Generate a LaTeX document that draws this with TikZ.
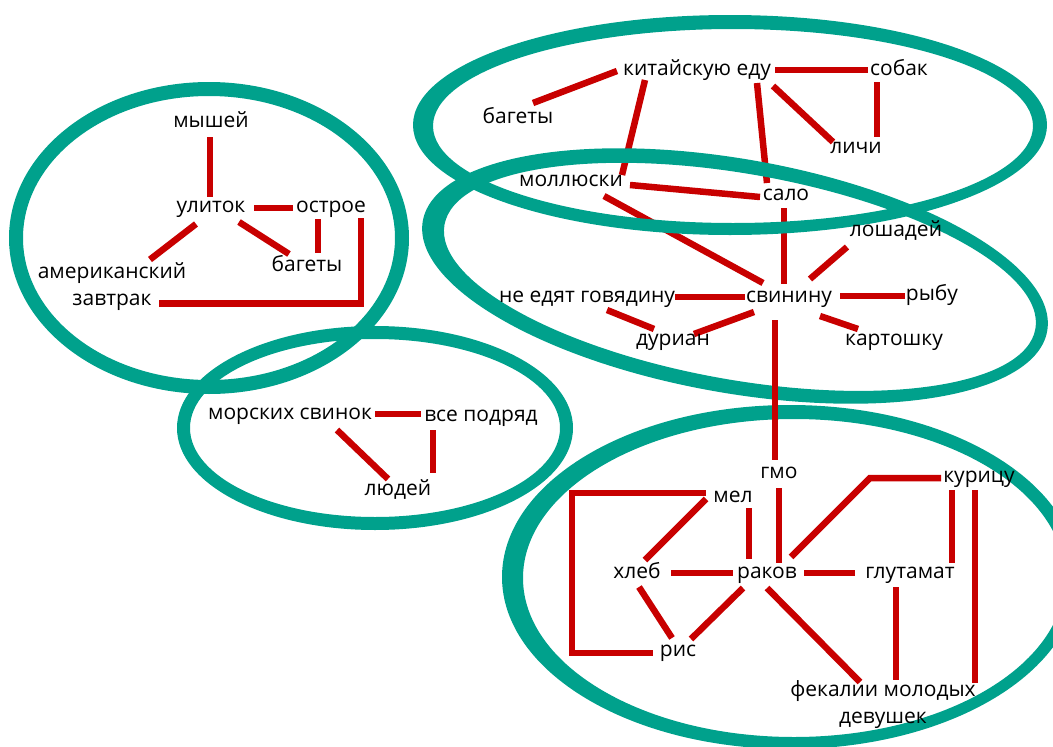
\documentclass[tikz,border=0pt]{standalone}
\usepackage{fontspec}
\setmainfont{Open Sans}
\usetikzlibrary{calc}
\definecolor{ringteal}{RGB}{0,161,140}
\definecolor{linkred}{RGB}{200,0,0}
\pgfdeclarelayer{back}
\pgfsetlayers{back,main}
\begin{document}
\begin{tikzpicture}[x=1pt,y=-1pt,
  lbl/.style={font=\fontsize{21}{25}\selectfont, inner sep=0pt, text height=15.5pt, text depth=4.5pt, anchor=center},
  lbltwo/.style={font=\fontsize{21}{27}\selectfont, inner sep=0pt, align=center, anchor=center},
  link/.style={draw=linkred, line width=6.5pt},
  ring/.style={fill=ringteal, even odd rule}]
\useasboundingbox (0,0) rectangle (1053,747);
% ---------- labels ----------
\node[lbl] (mysh) at (211,122) {мышей};
\node[lbl] (ulit) at (211,207) {улиток};
\node[lbl] (ostr) at (331,207) {острое};
\node[lbltwo] (amer) at (112,286.5) {американский\\завтрак};
\node[lbl] (bag1) at (307,266) {багеты};
\node[lbl] (bag2) at (518,118) {багеты};
\node[lbl] (kit) at (697,70) {китайскую еду};
\node[lbl] (sobak) at (899,70) {собак};
\node[lbl] (lichi) at (856,148) {личи};
\node[lbl] (moll) at (571,181) {моллюски};
\node[lbl] (salo) at (786,195) {сало};
\node[lbl] (losh) at (896,231) {лошадей};
\node[lbl] (svin) at (789,297) {свинину};
\node[lbl] (ryba) at (932,295) {рыбу};
\node[lbl] (need) at (587,297) {не едят говядину};
\node[lbl] (durian) at (673,340) {дуриан};
\node[lbl] (kart) at (894,340) {картошку};
\node[lbl] (morsk) at (290,414) {морских свинок};
\node[lbl] (vse) at (481,416) {все подряд};
\node[lbl] (lyud) at (398,490) {людей};
\node[lbl] (gmo) at (779,473) {гмо};
\node[lbl] (kur) at (979,477) {курицу};
\node[lbl] (mel) at (733,497) {мел};
\node[lbl] (hleb) at (637,573) {хлеб};
\node[lbl] (rakov) at (767,573) {раков};
\node[lbl] (glut) at (910,573) {глутамат};
\node[lbl] (ris) at (678,651) {рис};
\node[lbltwo] (fek) at (883,705) {фекалии молодых\\девушек};
\begin{pgfonlayer}{back}
\clip (0,0) rectangle (1053,747);
% ---------- links ----------
\draw[link] ($(mysh)+(-1,15)$) -- ($(ulit)+(-1,-10)$);
\draw[link] ($(ulit)+(43,1)$) -- ($(ostr)+(-38,1)$);
\draw[link] ($(ulit)+(-15,17)$) -- ($(amer)+(38,-27)$);
\draw[link] ($(ulit)+(28,15)$) -- ($(bag1)+(-18,-12)$);
\draw[link] ($(ostr)+(-13,12)$) -- ($(bag1)+(11,-13)$);
\draw[link] ($(ostr)+(30,11)$) |- ($(amer)+(47,17)$);
\draw[link] ($(bag2)+(15,-15)$) -- ($(kit)+(-80,1)$);
\draw[link] ($(kit)+(78,0)$) -- ($(sobak)+(-31,0)$);
\draw[link] ($(kit)+(76,16)$) -- ($(lichi)+(-23,-6)$);
\draw[link] ($(kit)+(60,13)$) -- ($(salo)+(-19,-12)$);
\draw[link] ($(kit)+(-52,10)$) -- ($(moll)+(51,-6)$);
\draw[link] ($(sobak)+(-22,12)$) -- ($(lichi)+(21,-11)$);
\draw[link] ($(moll)+(59,4)$) -- ($(salo)+(-26,2)$);
\draw[link] ($(salo)+(-2,13)$) -- ($(svin)+(-5,-13)$);
\draw[link] ($(moll)+(33,15)$) -- ($(svin)+(-26,-14)$);
\draw[link] ($(losh)+(-49,16)$) -- ($(svin)+(21,-18)$);
\draw[link] ($(svin)+(51,-1)$) -- ($(ryba)+(-27,1)$);
\draw[link] ($(need)+(88,0)$) -- ($(svin)+(-44,0)$);
\draw[link] ($(need)+(20,13)$) -- ($(durian)+(-19,-11)$);
\draw[link] ($(svin)+(-35,15)$) -- ($(durian)+(21,-6)$);
\draw[link] ($(svin)+(31,19)$) -- ($(kart)+(-36,-11)$);
\draw[link] ($(morsk)+(85,0)$) -- ($(vse)+(-60,-2)$);
\draw[link] ($(morsk)+(47,16)$) -- ($(lyud)+(-10,-11)$);
\draw[link] ($(vse)+(-48,14)$) -- ($(lyud)+(35,-17)$);
\draw[link] ($(gmo)+(0,15)$) -- ($(rakov)+(12,-10)$);
\draw[link] ($(mel)+(16,11)$) -- ($(rakov)+(-18,-14)$);
\draw[link] ($(mel)+(-27,-4)$) -| ($(ris)+(-106,2)$) -- ($(ris)+(-25,2)$);
\draw[link] ($(mel)+(-27,2)$) -- ($(hleb)+(8,-13)$);
\draw[link] ($(hleb)+(34,0)$) -- ($(rakov)+(-34,0)$);
\draw[link] ($(hleb)+(2,14)$) -- ($(ris)+(-6,-13)$);
\draw[link] ($(rakov)+(-24,15)$) -- ($(ris)+(13,-12)$);
\draw[link] ($(rakov)+(37,0)$) -- ($(glut)+(-55,0)$);
\draw[link] ($(rakov)+(24,-16)$) -- ($(kur)+(-109,1)$) -- ($(kur)+(-38,1)$);
\draw[link] ($(rakov)+(0,15)$) -- ($(fek)+(-23,-23)$);
\draw[link] ($(kur)+(-27,13)$) -- ($(glut)+(42,-10)$);
\draw[link] ($(kur)+(-4,13)$) -- ($(fek)+(92,-22)$);
\draw[link] ($(glut)+(-14,14)$) -- ($(fek)+(13,-25)$);
% ---------- rings ----------
\begin{scope}[shift={(209,238)}]
  \fill[ring] (0,0) ellipse [x radius=200, y radius=156] (0,0) ellipse [x radius=186, y radius=142];
\end{scope}
\begin{scope}[shift={(375,428)}]
  \fill[ring] (0,0) ellipse [x radius=198, y radius=102] (0,0) ellipse [x radius=185, y radius=89];
\end{scope}
\begin{scope}[shift={(730,125)}]
  \fill[ring] (0,0) ellipse [x radius=317, y radius=110] (3,1) ellipse [x radius=300, y radius=97];
\end{scope}
\begin{scope}[shift={(735,276)}, rotate=-10]
  \fill[ring] (0,0) ellipse [x radius=317, y radius=117] (5,0) ellipse [x radius=300, y radius=103];
\end{scope}
\begin{scope}[shift={(790,577)}]
  \fill[ring] (0,0) ellipse [x radius=288, y radius=172] (4,1) ellipse [x radius=271, y radius=159];
\end{scope}
% link drawn over the rings
\draw[link] ($(svin)+(-14,23)$) -- ($(gmo)+(-4,-13)$);
\end{pgfonlayer}
\end{tikzpicture}
\end{document}
